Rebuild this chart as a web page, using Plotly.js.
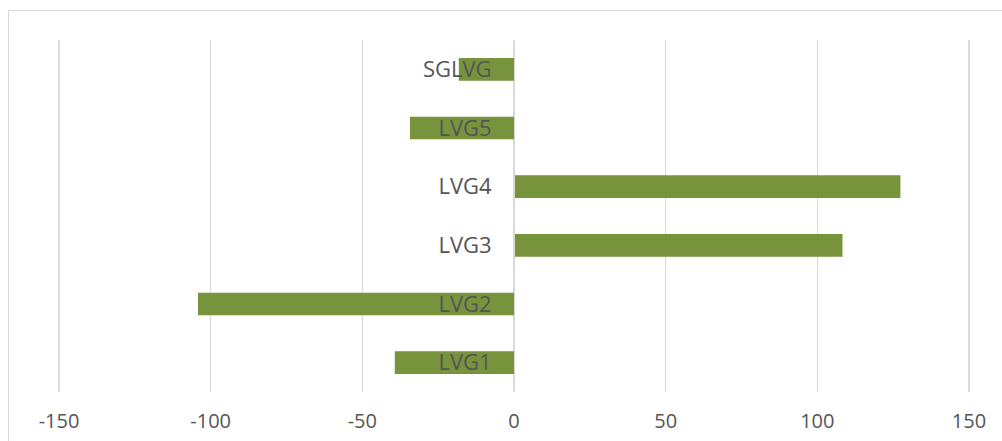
<!DOCTYPE html>
<html>
<head>
<meta charset="utf-8">
<script src="https://cdn.plot.ly/plotly-3.0.1.min.js"></script>
<style>
  html, body { margin: 0; padding: 0; background: #fff; }
  #wrap { position: relative; width: 1002px; height: 441px; overflow: hidden; }
  #chart { position: absolute; left: 0; top: 0; width: 1002px; height: 441px; }
  #frame { position: absolute; left: 8px; top: 10px; width: 1010px; height: 450px;
           border-left: 1px solid #d9d9d9; border-top: 1px solid #d9d9d9; pointer-events: none; }
</style>
</head>
<body>
<div id="wrap">
  <div id="chart"></div>
  <div id="frame"></div>
</div>
<script>
const categories = ["LVG1", "LVG2", "LVG3", "LVG4", "LVG5", "SGLVG"];
const values = [-39.3, -104.2, 108.3, 127.4, -34.3, -18.2];
const xTickValues = [-150, -100, -50, 0, 50, 100, 150];

const textColor = "#555555";
const gridColor = "#d9d9d9";
const barColor = "#77933c";
const fontFamily = "'Open Sans', 'Noto Sans', sans-serif";

const trace = {
  type: "bar",
  orientation: "h",
  y: categories,
  x: values,
  marker: { color: barColor, line: { width: 0 } },
  hoverinfo: "x+y"
};

const layout = {
  width: 1002,
  height: 441,
  margin: { l: 55.5, r: 30, t: 40, b: 48.5, pad: 0 },
  paper_bgcolor: "#ffffff",
  plot_bgcolor: "#ffffff",
  showlegend: false,
  bargap: 0.615,
  font: { family: fontFamily, size: 20, color: textColor },
  xaxis: {
    range: [-151, 151],
    tickvals: xTickValues,
    ticktext: xTickValues.map(String),
    showgrid: true,
    gridcolor: gridColor,
    gridwidth: 1.3,
    zeroline: false,
    showline: false,
    ticks: "",
    ticklabelstandoff: 15,
    tickfont: { family: fontFamily, size: 20, color: textColor },
    fixedrange: true
  },
  yaxis: {
    type: "category",
    categoryorder: "array",
    categoryarray: categories,
    range: [-0.5, 5.5],
    anchor: "free",
    position: 0.5,
    showgrid: false,
    zeroline: false,
    showline: true,
    linecolor: gridColor,
    linewidth: 1.3,
    ticks: "",
    ticklabelstandoff: 18,
    tickfont: { family: fontFamily, size: 22, color: textColor },
    fixedrange: true
  }
};

Plotly.newPlot("chart", [trace], layout, { displayModeBar: false, staticPlot: true });
</script>
</body>
</html>
